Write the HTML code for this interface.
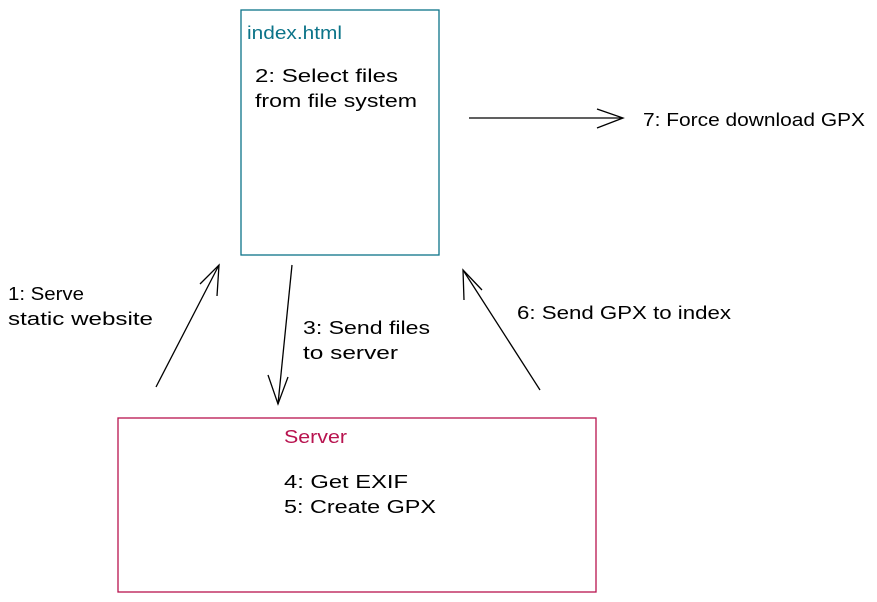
<!DOCTYPE html>
<html><head><meta charset="utf-8"><style>
html,body{margin:0;padding:0;background:#fff;width:877px;height:602px;overflow:hidden}
svg{display:block}
text{font-family:"Liberation Sans",sans-serif;font-size:18px;fill:#000}
</style></head><body>
<svg width="877" height="602" viewBox="0 0 877 602" xmlns="http://www.w3.org/2000/svg">
<rect x="241" y="10" width="198" height="245" fill="none" stroke="#0c7489" stroke-width="1.3"/>
<text x="247" y="39" style="fill:#0c7489" textLength="95" lengthAdjust="spacingAndGlyphs">index.html</text>
<text x="255" y="82" textLength="143" lengthAdjust="spacingAndGlyphs">2: Select files</text>
<text x="255" y="107" textLength="162" lengthAdjust="spacingAndGlyphs">from file system</text>
<line x1="469" y1="118" x2="622" y2="118" stroke="#000" stroke-width="1.3"/>
<path d="M597 109 L623 118 L597 128" fill="none" stroke="#000" stroke-width="1.3"/>
<text x="643" y="126" textLength="222" lengthAdjust="spacingAndGlyphs">7: Force download GPX</text>
<text x="8" y="300" textLength="76" lengthAdjust="spacingAndGlyphs">1: Serve</text>
<text x="8" y="325" textLength="145" lengthAdjust="spacingAndGlyphs">static website</text>
<line x1="156" y1="387" x2="219" y2="265" stroke="#000" stroke-width="1.3"/>
<path d="M200 284 L219 265 L217 296" fill="none" stroke="#000" stroke-width="1.3"/>
<line x1="292" y1="265" x2="278" y2="404" stroke="#000" stroke-width="1.3"/>
<path d="M268 375 L278 404 L288 377" fill="none" stroke="#000" stroke-width="1.3"/>
<text x="303" y="334" textLength="127" lengthAdjust="spacingAndGlyphs">3: Send files</text>
<text x="303" y="359" textLength="95" lengthAdjust="spacingAndGlyphs">to server</text>
<line x1="540" y1="390" x2="463" y2="270" stroke="#000" stroke-width="1.3"/>
<path d="M464 300 L463 270 L482 290" fill="none" stroke="#000" stroke-width="1.3"/>
<text x="517" y="319" textLength="214" lengthAdjust="spacingAndGlyphs">6: Send GPX to index</text>
<rect x="118" y="418" width="478" height="174" fill="none" stroke="#b8134f" stroke-width="1.3"/>
<text x="284" y="443" style="fill:#b8134f" textLength="63" lengthAdjust="spacingAndGlyphs">Server</text>
<text x="284" y="488" textLength="124" lengthAdjust="spacingAndGlyphs">4: Get EXIF</text>
<text x="284" y="513" textLength="152" lengthAdjust="spacingAndGlyphs">5: Create GPX</text>
</svg>
</body></html>
